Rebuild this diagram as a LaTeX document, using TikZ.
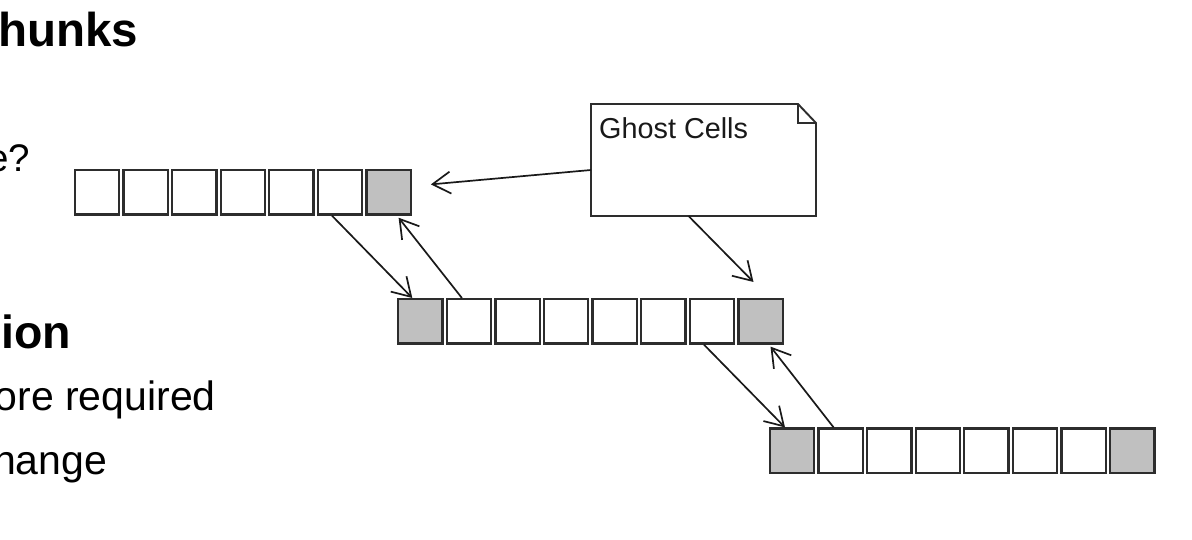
\documentclass[tikz,border=0pt]{standalone}
\usepackage{fontspec}
\setmainfont{Liberation Sans}
\usetikzlibrary{arrows.meta}
\definecolor{cellgray}{RGB}{192,192,192}
\definecolor{celledge}{RGB}{45,45,45}
\definecolor{pointer}{RGB}{25,25,25}

\begin{document}
\begin{tikzpicture}[x=1pt,y=-1pt,
  cell/.style={draw=celledge, line width=2.3pt, fill=white, minimum size=44.3pt, inner sep=0pt},
  ghostcell/.style={cell, fill=cellgray},
  txt/.style={anchor=base west, inner sep=0pt},
  >={Straight Barb[length=18pt,width=22pt]},
  pointerline/.style={->, draw=pointer, line width=1.7pt}]
\clip (0,0) rectangle (1192,540);

\node[txt, font=\bfseries\fontsize{47.5}{52}\selectfont] (title) at (-2,47) {hunks};
\node[txt, font=\fontsize{38.5}{44}\selectfont] (question) at (-13,172) {e?};
\node[txt, font=\bfseries\fontsize{46.5}{52}\selectfont] (heading) at (1,348) {ion};
\node[txt, font=\fontsize{41}{46}\selectfont] (first) at (-5.5,410.7) {ore required};
\node[txt, font=\fontsize{41}{46}\selectfont] (second) at (-7,474) {hange};

\node[cell] (r1c1) at (97,192.4) {};
\node[cell] (r1c2) at (145.6,192.4) {};
\node[cell] (r1c3) at (194.2,192.4) {};
\node[cell] (r1c4) at (242.8,192.4) {};
\node[cell] (r1c5) at (291.4,192.4) {};
\node[cell] (r1c6) at (340,192.4) {};
\node[ghostcell] (r1c7) at (388.6,192.4) {};

\node[ghostcell] (r2c1) at (420.3,321.3) {};
\node[cell] (r2c2) at (468.9,321.3) {};
\node[cell] (r2c3) at (517.5,321.3) {};
\node[cell] (r2c4) at (566.1,321.3) {};
\node[cell] (r2c5) at (614.7,321.3) {};
\node[cell] (r2c6) at (663.3,321.3) {};
\node[cell] (r2c7) at (711.9,321.3) {};
\node[ghostcell] (r2c8) at (760.5,321.3) {};

\node[ghostcell] (r3c1) at (792,450.7) {};
\node[cell] (r3c2) at (840.6,450.7) {};
\node[cell] (r3c3) at (889.2,450.7) {};
\node[cell] (r3c4) at (937.8,450.7) {};
\node[cell] (r3c5) at (986.4,450.7) {};
\node[cell] (r3c6) at (1035,450.7) {};
\node[cell] (r3c7) at (1083.6,450.7) {};
\node[ghostcell] (r3c8) at (1132.2,450.7) {};

\node[minimum width=225pt, minimum height=112pt, inner sep=0pt, outer sep=0pt] (note) at (703.5,160) {};
\draw [draw=celledge, line width=1.9pt, fill=white] (note.north west) -- ([xshift=-18pt]note.north east) -- ([yshift=-19pt]note.north east) -- (note.south east) -- (note.south west) -- cycle;
\draw [draw=celledge, line width=1.9pt] ([xshift=-18pt]note.north east) -- ([xshift=-18pt,yshift=-19pt]note.north east) -- ([yshift=-19pt]note.north east);
\node[txt, font=\fontsize{28.8}{32}\selectfont, text=black!90] (notetext) at (599,138.3) {Ghost Cells};

\draw [pointerline] ([yshift=-10pt]note.west) -- ([xshift=19pt,yshift=8pt]r1c7.east);
\draw [pointerline] ([xshift=-15pt]note.south) -- ([xshift=-7pt,yshift=16pt]r2c8.north);

\draw [pointerline] ([xshift=-8pt]r1c6.south) -- ([xshift=-8pt]r2c1.north);
\draw [pointerline] ([xshift=-7pt]r2c2.north) -- ([xshift=10pt,yshift=-2pt]r1c7.south);
\draw [pointerline] ([xshift=-8pt]r2c7.south) -- ([xshift=-7pt]r3c1.north);
\draw [pointerline] ([xshift=-7pt]r3c2.north) -- ([xshift=10pt,yshift=-2pt]r2c8.south);

\end{tikzpicture}
\end{document}
